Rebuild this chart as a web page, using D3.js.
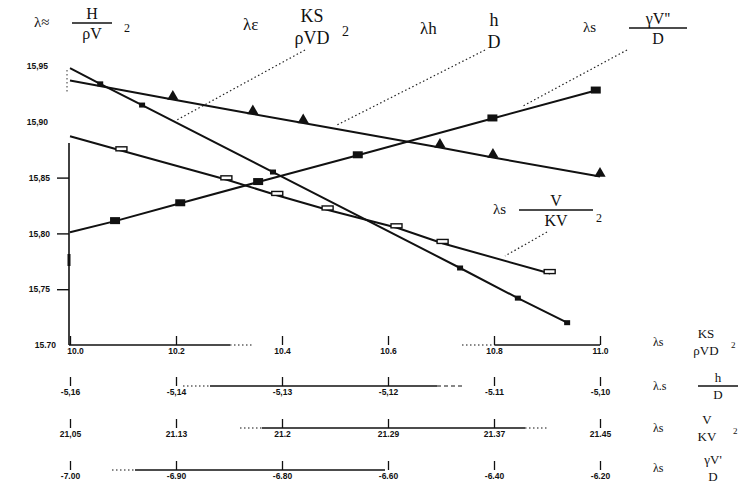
<!DOCTYPE html>
<html>
<head>
<meta charset="utf-8">
<script src="https://cdn.jsdelivr.net/npm/d3@7"></script>
<style>
  html, body { margin: 0; padding: 0; background: #fff; }
  svg { display: block; }
  .tick text { font-family: "Liberation Sans", Arial, sans-serif; font-weight: bold; font-size: 8.5px; fill: #111; }
  .fx { font-family: "Liberation Serif", "DejaVu Serif", serif; fill: #111; }
</style>
</head>
<body>
<svg id="chart" width="747" height="490"></svg>
<script>
// ---- axis ticks ----
const xTicks = [10.0, 10.2, 10.4, 10.6, 10.8, 11.0];
const xLabels = ["10.0", "10.2", "10.4", "10.6", "10.8", "11.0"];
const ksLabels = ["-5,16", "-5,14", "-5,13", "-5,12", "-5.11", "-5,10"];
const vkLabels = ["21,05", "21.13", "21.2", "21.29", "21.37", "21.45"];
const gvLabels = ["-7.00", "-6.90", "-6.80", "-6.60", "-6.40", "-6.20"];
const yTicks = [15.75, 15.80, 15.85];
const yLabels = ["15,75", "15,80", "15,85"];
const yFreeTicks = [15.90, 15.95];
const yFreeLabels = ["15,90", "15,95"];

// ---- series: λ ≈ H/ρV² ----
const hX = [10.000, 10.057, 10.136, 10.383, 10.736, 10.845, 10.938];
const hY = [15.948, 15.934, 15.915, 15.855, 15.769, 15.742, 15.720];
// ---- series: λ ≈ V/KV² ----
const vX = [10.000, 10.098, 10.296, 10.392, 10.487, 10.617, 10.704, 10.906];
const vY = [15.887, 15.874, 15.848, 15.834, 15.821, 15.805, 15.791, 15.764];
// ---- series: λ ≈ h/D ----
const dX = [10.000, 10.194, 10.345, 10.440, 10.698, 10.798, 11.000];
const dY = [15.937, 15.920, 15.907, 15.899, 15.877, 15.868, 15.851];
// ---- series: λ ≈ γV'/D ----
const gX = [10.000, 10.085, 10.208, 10.355, 10.543, 10.797, 10.992];
const gY = [15.801, 15.811, 15.827, 15.846, 15.870, 15.903, 15.928];

const svg = d3.select("#chart");
const x = d3.scaleLinear().domain([10.0, 11.0]).range([70, 600]);
const y = d3.scaleLinear().domain([15.70, 15.95]).range([345, 66]);

const zip = (xs, ys) => xs.map((v, i) => [v, ys[i]]);
const line = d3.line().x(d => x(d[0])).y(d => y(d[1]));
const tickFont = sel => sel.style("font-family", "Liberation Sans, Arial, sans-serif")
  .style("font-weight", "bold").style("font-size", "8.5px").attr("fill", "#111");

// ---- left axis ----
const yAxis = svg.append("g").attr("transform", "translate(69,0)")
  .call(d3.axisLeft(y).tickValues(yTicks).tickFormat((d, i) => yLabels[i]).tickSize(12).tickPadding(7));
yAxis.select(".domain").remove();
yAxis.selectAll(".tick line").attr("stroke", "#111").attr("stroke-width", 1.4);
svg.append("line").attr("x1", 69).attr("x2", 69).attr("y1", 143).attr("y2", 345)
  .attr("stroke", "#111").attr("stroke-width", 1.6);
svg.append("line").attr("x1", 69).attr("x2", 69).attr("y1", 254).attr("y2", 266)
  .attr("stroke", "#111").attr("stroke-width", 3);
// labels without ticks above the axis line
svg.selectAll(".yfree").data(yFreeTicks).join("text")
  .attr("class", "yfree")
  .attr("x", 48).attr("y", d => y(d)).attr("dy", "0.32em")
  .attr("text-anchor", "end").call(tickFont)
  .text((d, i) => yFreeLabels[i]);
svg.append("line").attr("x1", 67).attr("x2", 67).attr("y1", 70).attr("y2", 92)
  .attr("stroke", "#333").attr("stroke-width", 1).attr("stroke-dasharray", "1.5,2.5");
svg.append("text").attr("x", 56).attr("y", 345).attr("dy", "0.32em").attr("text-anchor", "end")
  .call(tickFont).text("15.70");

// ---- bottom scales (ticks point up, labels below) ----
function scaleRow(rowY, labels, segments) {
  const g = svg.append("g").attr("transform", `translate(0,${rowY})`)
    .call(d3.axisBottom(x).tickValues(xTicks).tickFormat((d, i) => labels[i])
      .tickSize(-9).tickPadding(3));
  g.select(".domain").remove();
  g.selectAll(".tick line").attr("stroke", "#111").attr("stroke-width", 1.3);
  segments.forEach(s => {
    g.append("line").attr("x1", s[0]).attr("x2", s[1]).attr("y1", 0).attr("y2", 0)
      .attr("stroke", "#111").attr("stroke-width", s[2] ? 1.2 : 1.6)
      .attr("stroke-dasharray", s[2] || null);
  });
  return g;
}
const row1 = scaleRow(345, xLabels, [[69, 230], [230, 252, "1.5,2.5"], [462, 495, "1.5,2.5"], [495, 600]]);
row1.selectAll(".tick text").filter((d, i) => i === 0).attr("dx", 5);
scaleRow(386, ksLabels, [[183, 210, "1.5,2.5"], [210, 437], [437, 462, "4,3"]]);
scaleRow(428, vkLabels, [[240, 262, "1.5,2.5"], [262, 525], [525, 548, "1.5,2.5"]]);
scaleRow(470, gvLabels, [[112, 135, "1.5,2.5"], [135, 385]]);

// ---- data lines ----
const series = [zip(hX, hY), zip(vX, vY), zip(dX, dY), zip(gX, gY)];
svg.selectAll(".sline").data(series).join("path")
  .attr("class", "sline").attr("d", line)
  .attr("fill", "none").attr("stroke", "#111").attr("stroke-width", 2);

// markers
svg.selectAll(".mh").data(zip(hX, hY).slice(1)).join("rect")
  .attr("x", d => x(d[0]) - 3).attr("y", d => y(d[1]) - 2.5)
  .attr("width", 6).attr("height", 5).attr("fill", "#111");
svg.selectAll(".mv").data(zip(vX, vY).slice(1)).join("rect")
  .attr("x", d => x(d[0]) - 6).attr("y", d => y(d[1]) - 4)
  .attr("width", 11).attr("height", 4).attr("fill", "#fff")
  .attr("stroke", "#111").attr("stroke-width", 1.4);
const tri = d3.symbol().type(d3.symbolTriangle).size(55);
svg.selectAll(".md").data(zip(dX, dY).slice(1)).join("path")
  .attr("transform", d => `translate(${x(d[0])},${y(d[1]) - 3})`)
  .attr("d", tri).attr("fill", "#111");
svg.selectAll(".mg").data(zip(gX, gY).slice(1)).join("rect")
  .attr("x", d => x(d[0]) - 5).attr("y", d => y(d[1]) - 4)
  .attr("width", 10).attr("height", 7).attr("fill", "#111");

// ---- formula labels (all coordinates absolute in the svg) ----
function formula(px, py, pre, num, den, sup, opts = {}) {
  const g = svg.append("g");
  const fs = opts.size || 15;
  g.append("text").attr("class", "fx").attr("x", px).attr("y", py + 4)
    .style("font-size", (fs - 1) + "px").text(pre);
  const cx = opts.cx;
  g.append("text").attr("class", "fx").attr("x", cx).attr("y", py - 4)
    .attr("text-anchor", "middle").style("font-size", fs + "px").text(num);
  g.append("text").attr("class", "fx").attr("x", cx).attr("y", py + fs)
    .attr("text-anchor", "middle").style("font-size", fs + "px").text(den);
  if (opts.bar) {
    g.append("line").attr("x1", cx - opts.bar / 2).attr("x2", cx + opts.bar / 2)
      .attr("y1", py).attr("y2", py).attr("stroke", "#111").attr("stroke-width", 1.3);
  }
  if (sup) {
    g.append("text").attr("class", "fx").attr("x", opts.sx).attr("y", py + opts.sy)
      .style("font-size", (fs - 4) + "px").text(sup);
  }
}
formula(34, 23, "λ≈", "H", "ρV", "2", { cx: 92, bar: 40, sx: 124, sy: 9, size: 16 });
formula(243, 26, "λε", "KS", "ρVD", "2", { cx: 312, sx: 342, sy: 10, size: 18 });
formula(420, 30, "λh", "h", "D", null, { cx: 494, size: 18 });
formula(583, 28, "λs", "γV''", "D", null, { cx: 658, bar: 58, size: 16 });
formula(493, 210, "λs", "V", "KV", "2", { cx: 556, bar: 74, sx: 596, sy: 12, size: 16 });

// right-hand legend for the lower scales
formula(653, 342, "λs", "KS", "ρVD", "2", { cx: 706, sx: 731, sy: 6, size: 13 });
formula(653, 386, "λ.s", "h", "D", null, { cx: 718, bar: 40, size: 13 });
formula(653, 428, "λs", "V", "KV", "2", { cx: 707, sx: 733, sy: 6, size: 13 });
formula(653, 468, "λs", "γV'", "D", null, { cx: 713, size: 13 });

// ---- dotted leaders ----
const leaders = [[305, 50, 175, 121], [485, 50, 337, 125], [627, 50, 523, 106], [547, 232, 505, 256]];
svg.selectAll(".lead").data(leaders).join("line")
  .attr("x1", d => d[0]).attr("y1", d => d[1]).attr("x2", d => d[2]).attr("y2", d => d[3])
  .attr("stroke", "#222").attr("stroke-width", 1.2).attr("stroke-dasharray", "1.5,2.5");
</script>
</body>
</html>
